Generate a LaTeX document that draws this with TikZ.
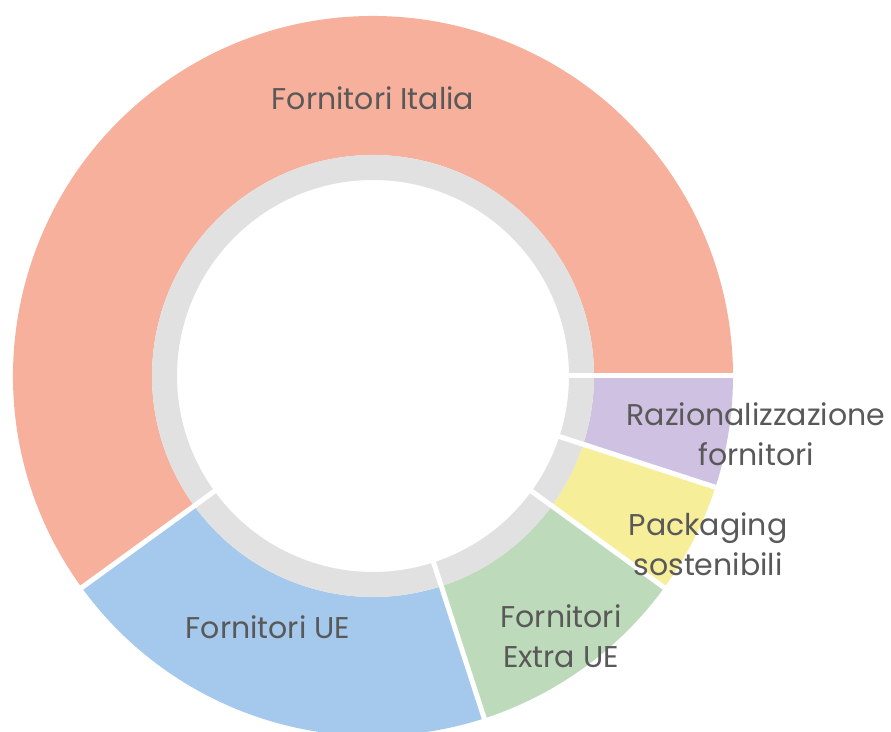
\documentclass[tikz,border=0pt]{standalone}
\usepackage{fontspec}
\setmainfont{Poppins}
\definecolor{cItalia}{HTML}{F6B09C}
\definecolor{cUE}{HTML}{A4C9EC}
\definecolor{cExtra}{HTML}{BDDBBA}
\definecolor{cPack}{HTML}{F7EE99}
\definecolor{cRaz}{HTML}{CFC1E1}
\definecolor{cRing}{HTML}{E1E1E1}
\definecolor{cText}{HTML}{595959}
\newcommand\donutseg[3]{%
  \fill[#3] (#1:221pt) arc[start angle=#1,end angle=#2,radius=221pt] -- (#2:360pt) arc[start angle=#2,end angle=#1,radius=360pt] -- cycle;
  \fill[cRing] (#1:196pt) arc[start angle=#1,end angle=#2,radius=196pt] -- (#2:221pt) arc[start angle=#2,end angle=#1,radius=221pt] -- cycle;
}
\tikzset{
  lbl/.style={text=cText, font=\fontsize{30}{40}\selectfont, align=center, inner sep=0pt},
  sep/.style={draw=white, line width=5pt},
}
\begin{document}
\begin{tikzpicture}[x=1pt,y=1pt]
\useasboundingbox (0,0) rectangle (891,731);
\begin{scope}[shift={(373,355)}]
  \donutseg{0}{216}{cItalia}
  \donutseg{216}{288}{cUE}
  \donutseg{288}{324}{cExtra}
  \donutseg{324}{342}{cPack}
  \donutseg{342}{360}{cRaz}
  \foreach \a in {0,216,288,324,342} \draw[sep] (\a:190pt) -- (\a:366pt);
\end{scope}
\node[lbl] (italia) at (373,633) {Fornitori Italia};
\node[lbl] (ue) at (268,104) {Fornitori UE};
\node[lbl] (extra) at (561,95) {Fornitori\\Extra UE};
\node[lbl] (pack) at (708,187) {Packaging\\sostenibili};
\node[lbl] (raz) at (756,297) {Razionalizzazione\\fornitori};
\end{tikzpicture}
\end{document}
